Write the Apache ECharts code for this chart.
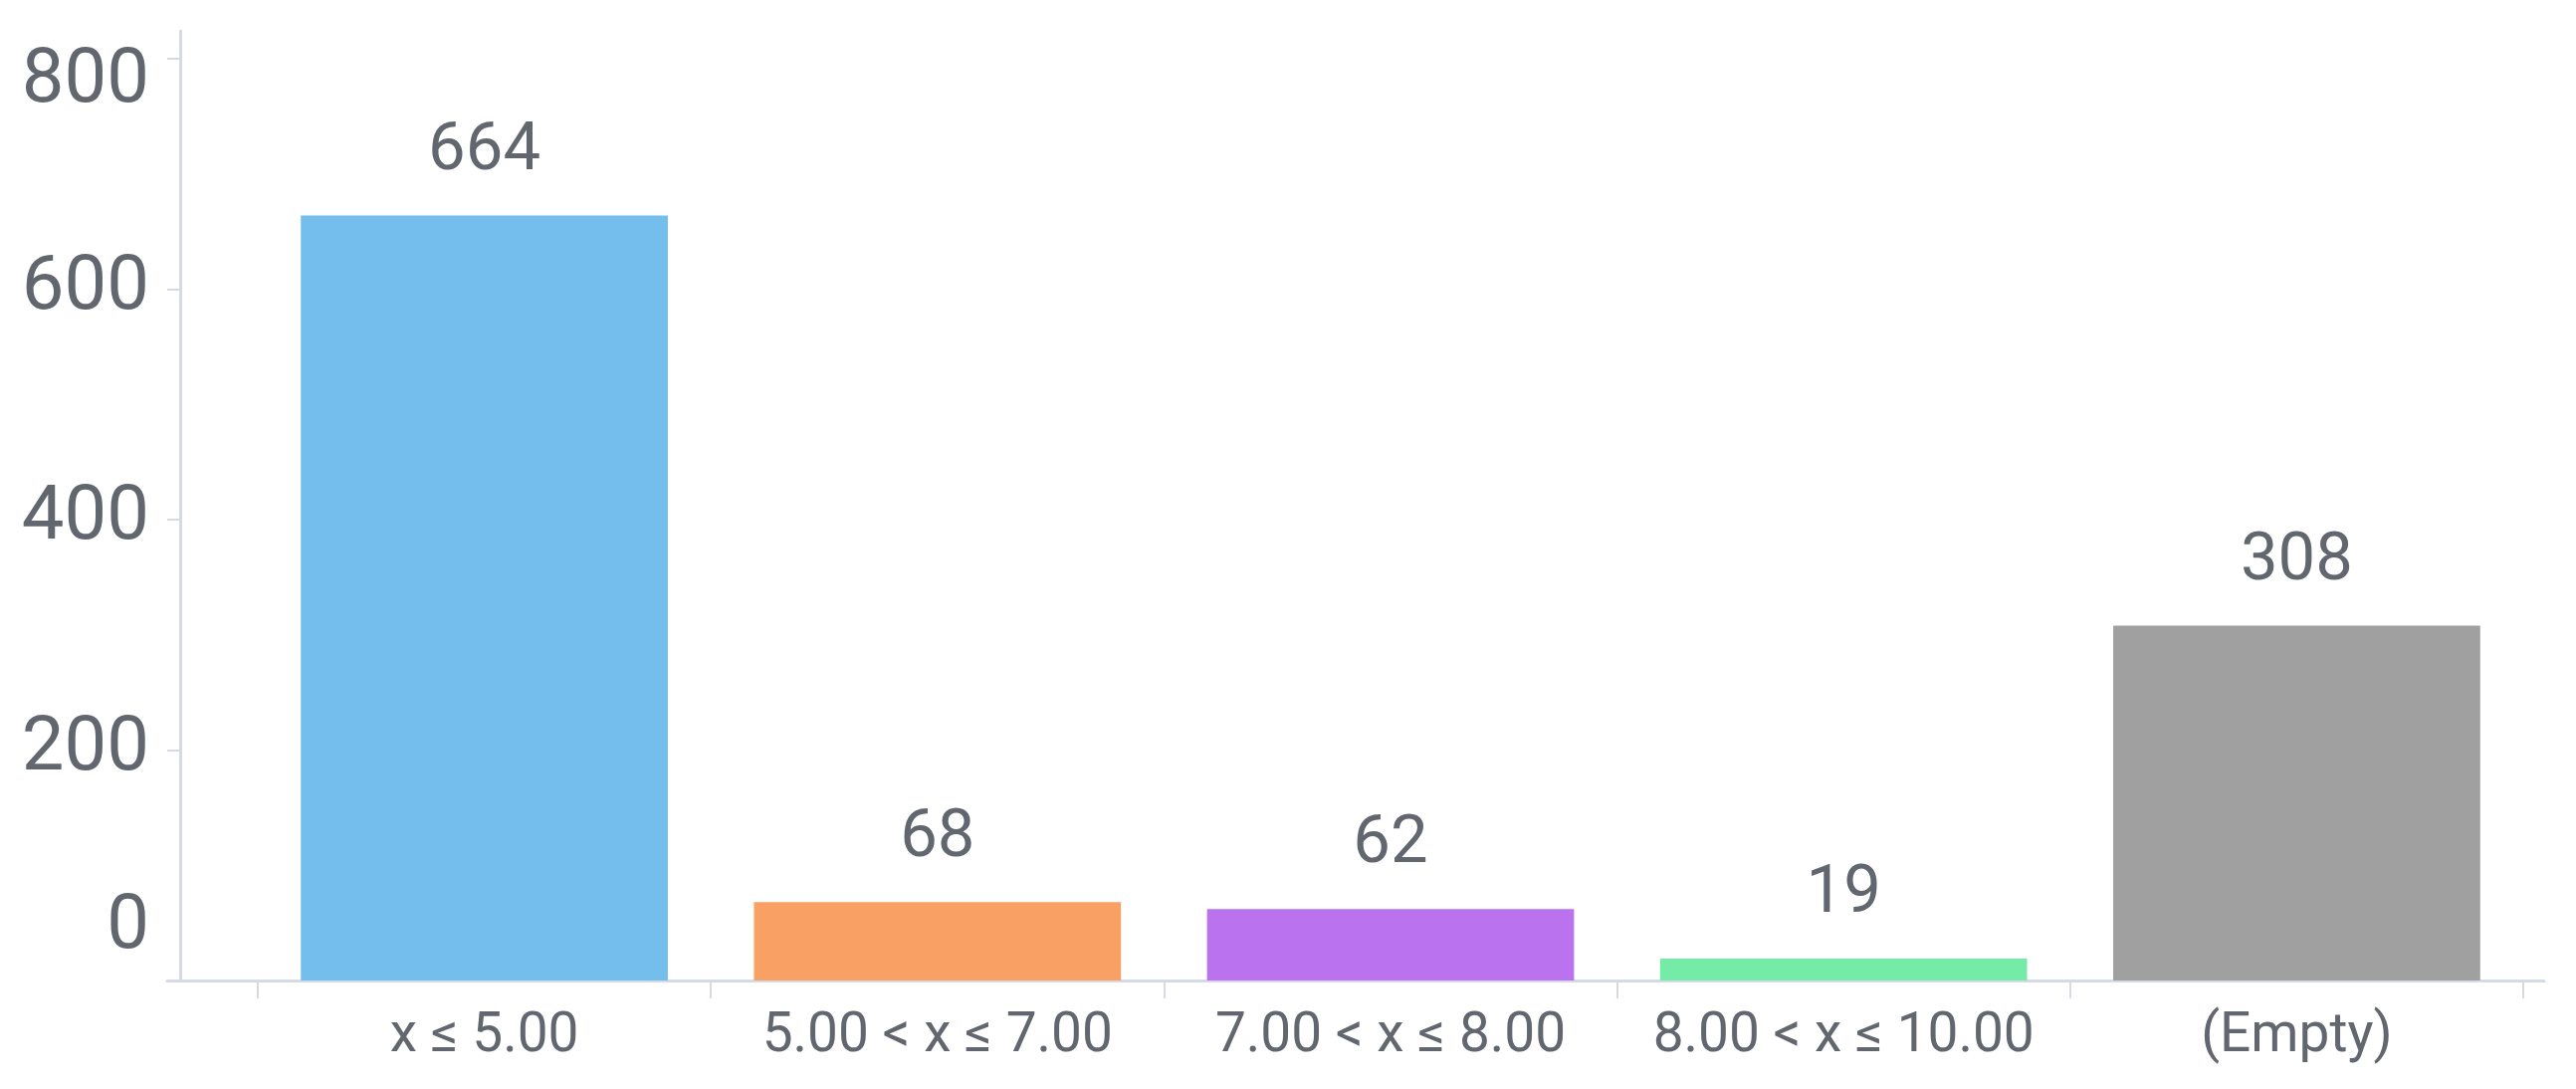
<!DOCTYPE html>
<html>
<head>
<meta charset="utf-8">
<script src="https://cdn.jsdelivr.net/npm/echarts@6/dist/echarts.min.js"></script>
<style>
html,body{margin:0;padding:0;background:#fff;}
#chart{width:2588px;height:1094px;}
</style>
</head>
<body>
<div id="chart"></div>
<script>
const categories = ['x \u2264 5.00', '5.00 < x \u2264 7.00', '7.00 < x \u2264 8.00', '8.00 < x \u2264 10.00', '(Empty)'];
const counts = [664, 68, 62, 19, 308];
const barColors = ['#73BEEC', '#F9A164', '#BA72EE', '#75EBA8', '#A0A0A0'];
const yTicks = [0, 200, 400, 600, 800];

const textColor = '#62666f';
const axisColor = '#d6d9e6';
const yMin = yTicks[0], yMax = yTicks[yTicks.length - 1], yStep = yTicks[1] - yTicks[0];

const chart = echarts.init(document.getElementById('chart'));
chart.setOption({
  animation: false,
  backgroundColor: '#ffffff',
  grid: [
    { left: 259, right: 53, top: 59, bottom: 109 },
    { left: 168, right: 32, top: 31, bottom: 109 }
  ],
  xAxis: [
    {
      type: 'category', gridIndex: 0, data: categories,
      axisLine: { show: false },
      axisTick: { show: true, interval: 0, length: 18, lineStyle: { color: axisColor, width: 2 } },
      axisLabel: { interval: 0, color: textColor, fontSize: 55, fontFamily: 'Roboto', margin: 30 }
    },
    {
      type: 'value', gridIndex: 1, min: 0, max: 1,
      axisLine: { show: true, lineStyle: { color: axisColor, width: 3 } },
      axisTick: { show: false }, axisLabel: { show: false }, splitLine: { show: false }
    }
  ],
  yAxis: [
    {
      type: 'value', gridIndex: 0, min: yMin, max: yMax, interval: yStep, offset: 78,
      axisLine: { show: false },
      axisTick: { show: true, length: 13, lineStyle: { color: axisColor, width: 2 } },
      splitLine: { show: false },
      axisLabel: {
        color: textColor, fontSize: 76, fontFamily: 'Roboto', margin: 31,
        formatter: function (v) {
          if (v === yMax) return '{mx|' + v + '}';
          if (v === yMin) return '{mn|' + v + '}';
          return '{n|' + v + '}';
        },
        rich: {
          n: { color: textColor, fontSize: 76, fontFamily: 'Roboto' },
          mx: { color: textColor, fontSize: 76, fontFamily: 'Roboto', padding: [48, 0, 0, 0] },
          mn: { color: textColor, fontSize: 76, fontFamily: 'Roboto', padding: [0, 0, 104, 0] }
        }
      }
    },
    {
      type: 'value', gridIndex: 1, min: 0, max: 1, offset: -13,
      axisLine: { show: true, lineStyle: { color: axisColor, width: 3 } },
      axisTick: { show: false }, axisLabel: { show: false }, splitLine: { show: false }
    }
  ],
  series: [
    {
      type: 'bar', xAxisIndex: 0, yAxisIndex: 0,
      barCategoryGap: '19%',
      data: counts.map((v, i) => ({ value: v, itemStyle: { color: barColors[i] } })),
      label: {
        show: true, position: 'top', distance: 30,
        color: textColor, fontSize: 67, fontFamily: 'Roboto'
      }
    }
  ]
});
</script>
</body>
</html>
